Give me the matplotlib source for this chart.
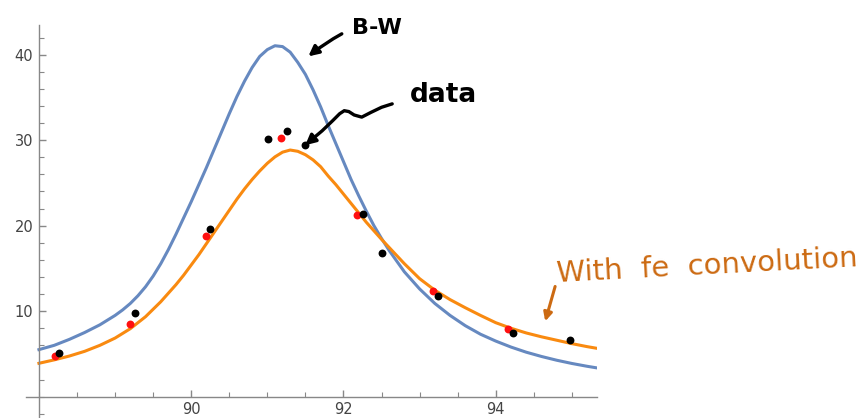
import numpy as np
import matplotlib
matplotlib.use("Agg")
import matplotlib.pyplot as plt
from matplotlib.ticker import MultipleLocator

# curves
bw_x = [88.0, 88.2, 88.4, 88.6, 88.8, 89.0, 89.1, 89.2, 89.3, 89.4, 89.5, 89.6,
        89.7, 89.8, 89.9, 90.0, 90.1, 90.2, 90.3, 90.4, 90.5, 90.6, 90.7, 90.8,
        90.9, 91.0, 91.1, 91.2, 91.3, 91.4, 91.5, 91.6, 91.7, 91.8, 91.9, 92.0,
        92.1, 92.2, 92.3, 92.4, 92.5, 92.6, 92.8, 93.0, 93.2, 93.4, 93.6, 93.8,
        94.0, 94.2, 94.4, 94.6, 94.8, 95.0, 95.2, 95.33]
bw_y = [5.5, 6.0, 6.7, 7.5, 8.4, 9.5, 10.15, 10.9, 11.8, 12.85, 14.1, 15.55,
        17.2, 19.0, 20.9, 22.8, 24.8, 26.8, 28.9, 31.0, 33.1, 35.1, 36.9, 38.5,
        39.8, 40.6, 41.05, 40.95, 40.3, 39.1, 37.7, 35.9, 33.9, 31.7, 29.6, 27.5,
        25.4, 23.5, 21.7, 20.0, 18.5, 17.1, 14.6, 12.6, 10.9, 9.5, 8.3, 7.3,
        6.5, 5.8, 5.2, 4.7, 4.26, 3.88, 3.55, 3.36]

conv_x = [88.0, 88.2, 88.4, 88.6, 88.8, 89.0, 89.2, 89.4, 89.6, 89.7, 89.8, 89.9,
          90.0, 90.1, 90.2, 90.3, 90.4, 90.5, 90.6, 90.7, 90.8, 90.9, 91.0, 91.1,
          91.2, 91.3, 91.4, 91.5, 91.6, 91.7, 91.8, 91.9, 92.0, 92.1, 92.2, 92.3,
          92.4, 92.5, 92.6, 92.8, 93.0, 93.2, 93.4, 93.6, 93.8, 94.0, 94.2, 94.4,
          94.6, 94.8, 95.0, 95.2, 95.33]
conv_y = [3.9, 4.3, 4.75, 5.3, 6.0, 6.85, 7.95, 9.35, 11.1, 12.1, 13.1, 14.2,
          15.4, 16.6, 17.9, 19.2, 20.5, 21.8, 23.1, 24.3, 25.4, 26.4, 27.3, 28.05,
          28.6, 28.85, 28.7, 28.3, 27.7, 26.9, 25.8, 24.8, 23.7, 22.6, 21.5, 20.4,
          19.4, 18.4, 17.45, 15.55, 13.8, 12.45, 11.35, 10.4, 9.5, 8.65, 8.0, 7.45,
          7.0, 6.6, 6.2, 5.85, 5.65]

# data points
red_x = [88.21, 89.20, 90.19, 91.18, 92.18, 93.18, 94.16]
red_y = [4.76, 8.5, 18.8, 30.3, 21.3, 12.4, 7.9]
black_x = [88.27, 89.26, 90.25, 91.01, 91.26, 91.49, 92.25, 92.51, 93.24, 94.23, 94.98]
black_y = [5.15, 9.75, 19.6, 30.1, 31.1, 29.4, 21.4, 16.8, 11.8, 7.5, 6.6]

fig = plt.figure(figsize=(8.66, 4.18), dpi=100)
ax = fig.add_axes([26 / 866, 0.0, 571 / 866, 393.2 / 418])

ax.plot(bw_x, bw_y, color="#6689C0", lw=2.2)
ax.plot(conv_x, conv_y, color="#F98A10", lw=2.2)
ax.scatter(red_x, red_y, s=32, color="#FF1010", zorder=3, linewidths=0)
ax.scatter(black_x, black_y, s=32, color="black", zorder=4, linewidths=0)

ax.set_xlim(87.83, 95.33)
ax.set_ylim(-2.5, 43.5)

# mathematica-like axes crossing at (88, 0)
for s in ["top", "right"]:
    ax.spines[s].set_visible(False)
ax.spines["left"].set_position(("data", 88.0))
ax.spines["bottom"].set_position(("data", 0))
for s in ["left", "bottom"]:
    ax.spines[s].set_color("#888888")
    ax.spines[s].set_linewidth(1.0)

ax.xaxis.set_minor_locator(MultipleLocator(0.5))
ax.yaxis.set_minor_locator(MultipleLocator(2))
ax.set_xticks([90, 92, 94])
ax.set_yticks([10, 20, 30, 40])
ax.tick_params(which="both", direction="in", color="#888888", labelcolor="#444444",
               labelsize=10.5)
ax.tick_params(which="major", length=5, width=1)
ax.tick_params(which="minor", length=3.5, width=0.8)
ax.tick_params(axis="x", pad=4)
ax.tick_params(axis="y", pad=4)

# hand-written notes
head = "-|>,head_length=0.6,head_width=0.3"
ax.text(92.44, 43.1, "B-W", fontsize=16, fontweight="bold", color="black",
        ha="center", va="center", clip_on=False)
ax.annotate("", xy=(91.51, 39.6), xytext=(92.01, 42.6), annotation_clip=False,
            arrowprops=dict(arrowstyle=head, lw=2.4, color="black",
                            connectionstyle="arc3,rad=0.05"))

ax.text(93.32, 35.3, "data", fontsize=19, color="black", fontweight="bold",
        ha="center", va="center", clip_on=False)
# squiggly stroke towards the points
sq_x = [92.64, 92.50, 92.36, 92.24, 92.14, 92.07, 92.01, 91.95, 91.86, 91.72, 91.60]
sq_y = [34.25, 33.85, 33.25, 32.7, 32.95, 33.35, 33.45, 33.1, 32.3, 31.1, 30.2]
ax.plot(sq_x, sq_y, color="black", lw=2.4, solid_capstyle="round",
        solid_joinstyle="round", clip_on=False)
ax.annotate("", xy=(91.47, 29.2), xytext=(91.62, 30.35), annotation_clip=False,
            arrowprops=dict(arrowstyle=head, lw=2.4, color="black"))

ax.text(96.78, 15.3, "With  fe  convolution", fontsize=21, color="#CC6A12",
        ha="center", va="center", rotation=3, clip_on=False)
ax.annotate("", xy=(94.64, 8.5), xytext=(94.79, 13.2), annotation_clip=False,
            arrowprops=dict(arrowstyle="-|>,head_length=0.5,head_width=0.25", lw=2.2,
                            color="#CC6A12"))

fig.savefig("out.png", dpi=100)
